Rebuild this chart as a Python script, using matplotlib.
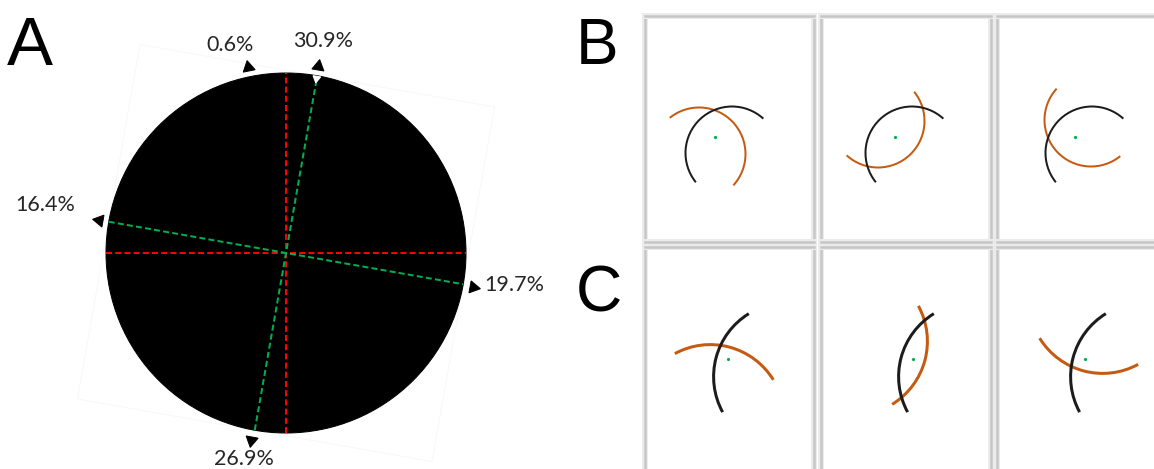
import numpy as np
import matplotlib
matplotlib.use("Agg")
import matplotlib.pyplot as plt
import matplotlib.patheffects as pe
from matplotlib.patches import Circle, Rectangle, Arc

W, H = 1154, 469
fig = plt.figure(figsize=(W / 72, H / 72), dpi=72)

# --- panel A data: label, angle on the disc (deg), text offset (px)
labels = ["0.6%", "30.9%", "16.4%", "19.7%", "26.9%"]
label_angles = [101.5, 80.3, 170.0, -10.3, 259.5]
label_offsets = [(-18, 22), (5, 25), (-54, 15), (41, 2), (-7, -19)]
frame_tilt = -10.0          # rotation of the tilted frame (deg)

# --- panels B / C data: reference arc (black), rotated copies (orange)
rotations = [-90, 180, 90]
b_center = (17, -16)        # arc centre relative to the green point
b_radius = 46.5
b_span = (47.6, 219.0)
c_center = (59.6, -17.7)
c_radius = 74.0
c_span = (121.6, 208.6)

BLACK = "#1c1c1c"
ORANGE = "#c55a11"
GREEN = "#00b050"
RED = "#ff0000"


def px_axes(x0, y0, x1, y1):
    return fig.add_axes([x0 / W, 1 - y1 / H, (x1 - x0) / W, (y1 - y0) / H])


# ---------------- panel A ----------------
R = 180.0
cx, cy = 286, 253
axA = px_axes(0, 0, 580, H)
axA.set_xlim(-cx / R, (580 - cx) / R)
axA.set_ylim(-(H - cy) / R, cy / R)
axA.axis("off")

axA.add_patch(Rectangle((-1, -1), 2, 2, angle=frame_tilt, rotation_point="center",
                        fill=False, ec="#f8f8f8", lw=1, zorder=1))
axA.add_patch(Circle((0, 0), 1, color="black", zorder=2))

axA.plot([0, 0], [-1, 1], color=RED, lw=2, dashes=(3, 1.6), zorder=3)
axA.plot([-1, 1], [0, 0], color=RED, lw=2, dashes=(3, 1.6), zorder=3)
for a in [frame_tilt, 90 + frame_tilt]:
    t = np.deg2rad(a)
    axA.plot([-np.cos(t), np.cos(t)], [-np.sin(t), np.sin(t)], color=GREEN,
             lw=2, dashes=(3, 1.6), zorder=4)

# small white notch where the 30.9% direction meets the rim
t = np.deg2rad(label_angles[1])
axA.plot(0.985 * np.cos(t), 0.985 * np.sin(t), marker=(3, 0, label_angles[1] + 90),
         ms=9, color="white", mec="white", zorder=5)

for lab, ang, off in zip(labels, label_angles, label_offsets):
    t = np.deg2rad(ang)
    x, y = 1.055 * np.cos(t), 1.055 * np.sin(t)
    axA.plot(x, y, marker=(3, 0, ang - 90), ms=14, color="black", zorder=5)
    axA.annotate(lab, (x, y), xytext=off, textcoords="offset points",
                 ha="center", va="center", fontsize=21.5, family="Lato",
                 color="#262626")

# ---------------- panels B and C ----------------
cols = [(645, 814), (821, 991), (997, 1170)]
rows = {"B": (16, 242), "C": (247, 490)}
dots = {"B": [(715, 137), (895, 137), (1075, 137)],
        "C": [(728, 359), (913, 359), (1085, 359)]}
arcs = {"B": (b_center, b_radius, b_span, 2.0),
        "C": (c_center, c_radius, c_span, 3.0)}


def rot(p, deg):
    t = np.deg2rad(deg)
    return (p[0] * np.cos(t) - p[1] * np.sin(t), p[0] * np.sin(t) + p[1] * np.cos(t))


for key in ["B", "C"]:
    y0, y1 = rows[key]
    center, radius, span, lw = arcs[key]
    for (x0, x1), (dx, dy), r in zip(cols, dots[key], rotations):
        ax = px_axes(x0, y0, x1, y1)
        ax.patch.set_visible(False)
        ax.set_xlim(x0 - dx, x1 - dx)
        ax.set_ylim(dy - y1, dy - y0)
        ax.set_xticks([])
        ax.set_yticks([])
        for s in ax.spines.values():
            s.set_color("#c6c6c6")
            s.set_linewidth(2.5)
            s.set_path_effects([pe.withStroke(linewidth=6, foreground="#ebebeb")])

        oc = rot(center, r)
        ax.add_patch(Arc(oc, 2 * radius, 2 * radius, theta1=span[0] + r,
                         theta2=span[1] + r, color=ORANGE, lw=lw))
        ax.add_patch(Arc(center, 2 * radius, 2 * radius, theta1=span[0],
                         theta2=span[1], color=BLACK, lw=lw))
        ax.plot(0, 0, "o", ms=3.2, color=GREEN, mec="none")

# panel letters
fig.text(7 / W, 1 - 65 / H, "A", fontsize=69, family="Liberation Sans", va="baseline")
fig.text(576 / W, 1 - 64 / H, "B", fontsize=64, family="Liberation Sans", va="baseline")
fig.text(576 / W, 1 - 311 / H, "C", fontsize=64, family="Liberation Sans", va="baseline")

fig.savefig("out.png", dpi=72, facecolor="white")
